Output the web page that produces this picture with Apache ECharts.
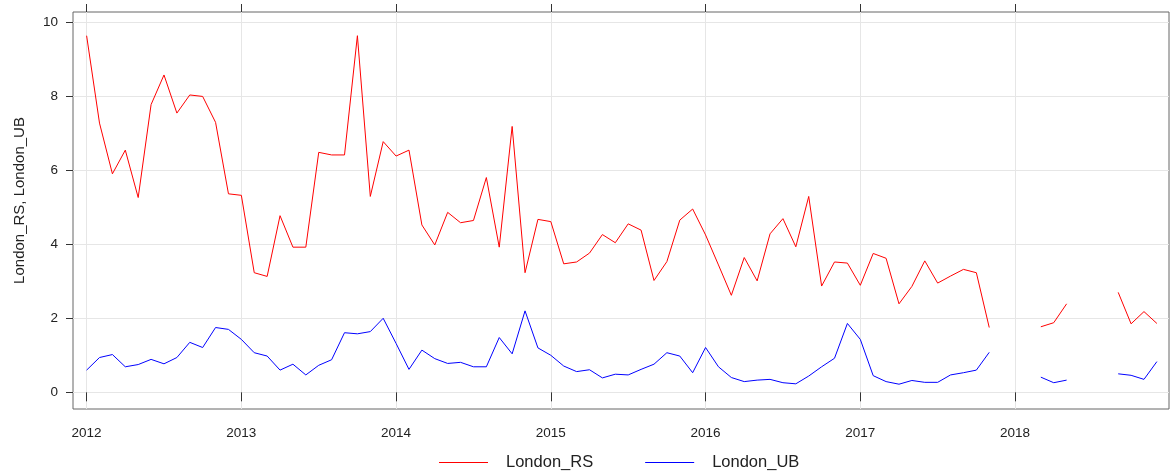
<!DOCTYPE html>
<html>
<head>
<meta charset="utf-8">
<script src="https://cdn.jsdelivr.net/npm/echarts@6/dist/echarts.min.js"></script>
<style>
    html, body { margin: 0; padding: 0; background: #fff; }
    #main { width: 1170px; height: 474px; }
</style>
</head>
<body>
<div id="main"></div>
<script>
// monthly series, Jan 2012 .. Dec 2018 (null = missing month)
var startYear = 2012;
var londonRS = [
    9.63, 7.27, 5.90, 6.54, 5.26, 7.77, 8.57, 7.54, 8.03, 7.99, 7.29, 5.36,
    5.32, 3.23, 3.13, 4.77, 3.92, 3.92, 6.48, 6.41, 6.41, 9.63, 5.29, 6.77,
    6.38, 6.54, 4.52, 3.98, 4.86, 4.58, 4.64, 5.80, 3.92, 7.18, 3.23, 4.67,
    4.61, 3.47, 3.52, 3.76, 4.26, 4.04, 4.55, 4.38, 3.02, 3.53, 4.65, 4.95,
    4.25, 3.44, 2.62, 3.64, 3.01, 4.28, 4.69, 3.93, 5.29, 2.87, 3.52, 3.49,
    2.89, 3.75, 3.62, 2.39, 2.86, 3.55, 2.95, 3.14, 3.32, 3.23, 1.75, null,
    null, null, 1.77, 1.88, 2.39, null, null, null, 2.70, 1.85, 2.18, 1.86
];
var londonUB = [
    0.60, 0.94, 1.02, 0.69, 0.75, 0.89, 0.77, 0.94, 1.35, 1.21, 1.75, 1.70,
    1.43, 1.07, 0.98, 0.60, 0.76, 0.47, 0.73, 0.88, 1.61, 1.58, 1.64, 2.00,
    1.32, 0.62, 1.14, 0.91, 0.78, 0.81, 0.69, 0.69, 1.48, 1.04, 2.20, 1.20,
    1.00, 0.71, 0.56, 0.61, 0.39, 0.49, 0.47, 0.62, 0.76, 1.07, 0.98, 0.53,
    1.21, 0.69, 0.40, 0.29, 0.33, 0.35, 0.26, 0.23, 0.44, 0.69, 0.92, 1.86,
    1.43, 0.45, 0.29, 0.22, 0.32, 0.27, 0.27, 0.47, 0.53, 0.60, 1.08, null,
    null, null, 0.41, 0.26, 0.33, null, null, null, 0.50, 0.46, 0.35, 0.83
];
var yearTicks = [2012, 2013, 2014, 2015, 2016, 2017, 2018];
var yTicks = [0, 2, 4, 6, 8, 10];

function toPairs(arr) {
    var out = [];
    for (var i = 0; i < arr.length; i++) {
        out.push([startYear + i / 12, arr[i]]);
    }
    return out;
}

var myChart = echarts.init(document.getElementById('main'));
var gridCol = '#e6e6e6';
var font = 'Liberation Sans';
var option = {
    animation: false,
    grid: {
        left: 73, right: 1, top: 12, bottom: 65,
        show: true, borderColor: '#666', borderWidth: 1
    },
    legend: {
        left: 434,
        top: 449,
        itemWidth: 49,
        itemHeight: 1,
        itemGap: 52,
        icon: 'rect',
        textStyle: { fontFamily: font, fontSize: 16.5, color: '#222', padding: [0, 0, 0, 13] },
        data: ['London_RS', 'London_UB']
    },
    xAxis: [{
        type: 'value',
        min: 2011.912, max: 2018.995,
        axisLine: { show: false },
        axisTick: { show: true, length: 9, customValues: yearTicks, lineStyle: { color: '#333' } },
        axisLabel: {
            customValues: yearTicks, margin: 17, fontFamily: font, fontSize: 13.5, color: '#222',
            formatter: function (v) { return String(v); }
        },
        splitLine: { show: true, lineStyle: { color: gridCol } }
    }, {
        type: 'value',
        position: 'top',
        min: 2011.912, max: 2018.995,
        axisLine: { show: false },
        axisTick: { show: true, length: 8, customValues: yearTicks, lineStyle: { color: '#333' } },
        axisLabel: { show: false },
        splitLine: { show: false }
    }],
    yAxis: {
        type: 'value',
        min: -0.45, max: 10.27,
        name: 'London_RS, London_UB',
        nameLocation: 'middle',
        nameGap: 46,
        nameTextStyle: { fontFamily: font, fontSize: 15, color: '#222', padding: [0, 0, 0, 20] },
        axisLine: { show: false },
        axisTick: { show: true, length: 7, customValues: yTicks, lineStyle: { color: '#333' } },
        axisLabel: { customValues: yTicks, margin: 15, fontFamily: font, fontSize: 13.5, color: '#222' },
        splitLine: { show: true, lineStyle: { color: gridCol } }
    },
    series: [{
        name: 'London_RS',
        type: 'line',
        symbol: 'none',
        connectNulls: false,
        color: '#ff0000',
        lineStyle: { width: 1, color: '#ff0000' },
        data: toPairs(londonRS)
    }, {
        name: 'London_UB',
        type: 'line',
        symbol: 'none',
        connectNulls: false,
        color: '#0000ff',
        lineStyle: { width: 1, color: '#0000ff' },
        data: toPairs(londonUB)
    }]
};
myChart.setOption(option);
</script>
</body>
</html>
